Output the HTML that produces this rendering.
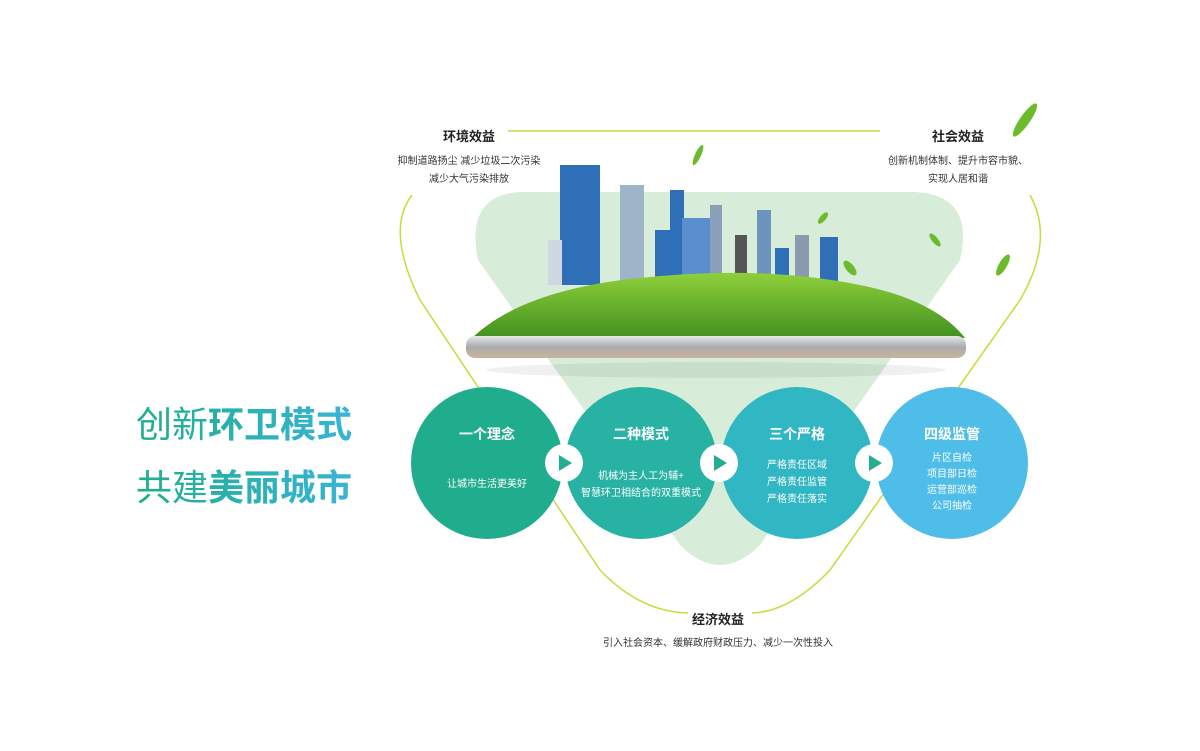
<!DOCTYPE html>
<html><head><meta charset="utf-8"><style>
body{margin:0;width:1200px;height:751px;background:#fff;overflow:hidden;font-family:"Liberation Sans","Noto Sans CJK SC",sans-serif}
svg{position:absolute;left:0;top:0}
</style></head><body>
<svg width="1200" height="751" viewBox="0 0 1200 751" font-family="Liberation Sans, Noto Sans CJK SC, sans-serif">
<defs>
<linearGradient id="g1" x1="0" x2="1"><stop offset="0" stop-color="#1fae8c"/><stop offset="1" stop-color="#4fbde8"/></linearGradient>
<linearGradient id="tx" x1="0" x2="1"><stop offset="0" stop-color="#1fae8c"/><stop offset="1" stop-color="#38b4d8"/></linearGradient>
<linearGradient id="grass" x1="0" y1="0" x2="0" y2="1"><stop offset="0" stop-color="#8fcf3a"/><stop offset="1" stop-color="#3f8f1f"/></linearGradient>
<linearGradient id="slab" x1="0" y1="0" x2="0" y2="1"><stop offset="0" stop-color="#e8e8e8"/><stop offset="0.5" stop-color="#a9abad"/><stop offset="1" stop-color="#c9b39a"/></linearGradient>
</defs>
<!-- light green backdrop -->
<path d="M520 192 L915 192 Q975 195 960 260 L760 545 Q720 585 680 545 L478 260 Q465 195 520 192Z" fill="#d7ecd9"/>
<!-- lime lines -->
<line x1="508" y1="131" x2="880" y2="131" stroke="#c5dc3a" stroke-width="1.5"/>
<path d="M412 195 Q385 230 420 300 L600 570 Q640 612 688 613" fill="none" stroke="#c5dc3a" stroke-width="1.5"/>
<path d="M1030 195 Q1055 240 1020 300 L830 570 Q790 612 752 613" fill="none" stroke="#c5dc3a" stroke-width="1.5"/>
<!-- buildings -->
<g fill="#2f6fb8">
<rect x="560" y="165" width="40" height="120"/><rect x="620" y="185" width="24" height="100" fill="#9fb4c8"/>
<rect x="548" y="240" width="14" height="45" fill="#cfd8e0"/><rect x="670" y="190" width="14" height="90"/>
<rect x="655" y="230" width="20" height="50"/><rect x="682" y="218" width="28" height="62" fill="#5a8fcf"/>
<rect x="710" y="205" width="12" height="70" fill="#8aa0b8"/><rect x="735" y="235" width="12" height="45" fill="#555"/>
<rect x="757" y="210" width="14" height="70" fill="#6d94bd"/><rect x="775" y="248" width="14" height="30"/>
<rect x="795" y="235" width="14" height="50" fill="#8a9bb0"/><rect x="820" y="237" width="18" height="50"/>
</g>
<!-- grass platform -->
<path d="M470 340 Q520 290 640 278 Q760 265 860 285 Q935 300 965 338 Z" fill="url(#grass)"/>
<rect x="466" y="336" width="500" height="22" rx="9" fill="url(#slab)"/>
<ellipse cx="716" cy="370" rx="230" ry="8" fill="#000" opacity="0.06"/>
<!-- leaves -->
<g fill="#6cbb2c">
<ellipse cx="698" cy="155" rx="3" ry="11" transform="rotate(25 698 155)"/>
<ellipse cx="1025" cy="120" rx="5" ry="20" transform="rotate(35 1025 120)"/>
<ellipse cx="1003" cy="265" rx="4" ry="12" transform="rotate(30 1003 265)"/>
<ellipse cx="935" cy="240" rx="3" ry="8" transform="rotate(-40 935 240)"/>
<ellipse cx="823" cy="218" rx="3" ry="7" transform="rotate(40 823 218)"/>
<ellipse cx="850" cy="268" rx="4" ry="9" transform="rotate(-40 850 268)"/>
</g>
<!-- circles -->
<circle cx="487" cy="463" r="76" fill="#20ad8d"/>
<circle cx="641" cy="463" r="76" fill="#27b2a4"/>
<circle cx="797" cy="463" r="76" fill="#31b6c4"/>
<circle cx="952" cy="463" r="76" fill="#4ebde8"/>
<g fill="#fff"><circle cx="564" cy="463" r="19"/><circle cx="719" cy="463" r="19"/><circle cx="874" cy="463" r="19"/></g>
<g fill="#25ad8f"><path d="M559 455 L572 463 L559 471Z"/><path d="M714 455 L727 463 L714 471Z"/><path d="M869 455 L882 463 L869 471Z"/></g>
<g fill="#fff" text-anchor="middle">
<text x="487" y="439" font-size="14" font-weight="bold">一个理念</text>
<text x="487" y="487" font-size="10">让城市生活更美好</text>
<text x="641" y="439" font-size="14" font-weight="bold">二种模式</text>
<text x="641" y="479" font-size="10">机械为主人工为辅+</text>
<text x="641" y="496" font-size="10">智慧环卫相结合的双重模式</text>
<text x="797" y="439" font-size="14" font-weight="bold">三个严格</text>
<text x="797" y="468" font-size="10">严格责任区域</text>
<text x="797" y="485" font-size="10">严格责任监管</text>
<text x="797" y="502" font-size="10">严格责任落实</text>
<text x="952" y="439" font-size="14" font-weight="bold">四级监管</text>
<text x="952" y="461" font-size="10">片区自检</text>
<text x="952" y="477" font-size="10">项目部日检</text>
<text x="952" y="493" font-size="10">运营部巡检</text>
<text x="952" y="509" font-size="10">公司抽检</text>
</g>
<g text-anchor="middle" fill="#333">
<text x="469" y="141" font-size="13" font-weight="bold" fill="#222">环境效益</text>
<text x="469" y="164" font-size="10">抑制道路扬尘  减少垃圾二次污染</text>
<text x="469" y="182" font-size="10">减少大气污染排放</text>
<text x="958" y="141" font-size="13" font-weight="bold" fill="#222">社会效益</text>
<text x="958" y="164" font-size="10">创新机制体制、提升市容市貌、</text>
<text x="958" y="182" font-size="10">实现人居和谐</text>
<text x="718" y="624" font-size="13" font-weight="bold" fill="#222">经济效益</text>
<text x="718" y="646" font-size="10">引入社会资本、缓解政府财政压力、减少一次性投入</text>
</g>
<g font-size="36" fill="url(#tx)">
<text x="136" y="437"><tspan>创新</tspan><tspan font-weight="bold">环卫模式</tspan></text>
<text x="136" y="500"><tspan>共建</tspan><tspan font-weight="bold">美丽城市</tspan></text>
</g>
</svg>
</body></html>
